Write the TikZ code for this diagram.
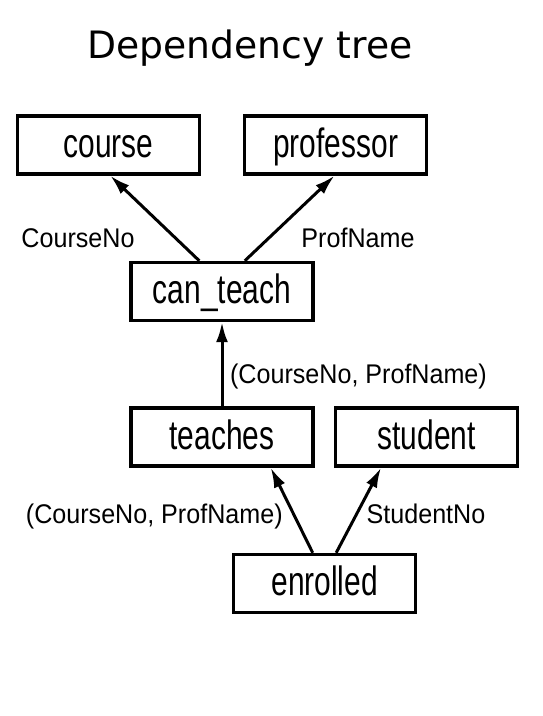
\documentclass[tikz,border=0pt]{standalone}
\usepackage{fontspec}
\setmainfont{Liberation Sans}
\newfontfamily\boxfont[FakeStretch=0.73]{Liberation Sans}
\newfontfamily\lblfont[FakeStretch=0.93]{Liberation Sans}
\newfontfamily\titlefont{DejaVu Sans}
\usetikzlibrary{arrows.meta}
\begin{document}
\begin{tikzpicture}[x=1pt,y=-1pt,
  rel/.style={draw,line width=3.4pt,inner sep=0pt,minimum width=182pt,minimum height=58pt,
    text height=30pt,text depth=6pt,font=\boxfont\fontsize{41}{41}\selectfont},
  lbl/.style={anchor=base,inner sep=0pt,font=\lblfont\fontsize{27}{27}\selectfont},
  dep/.style={line width=3pt,-{Latex[length=20pt,width=12pt]}}]
\useasboundingbox (0,0) rectangle (542,716);
\node[anchor=base,inner sep=0pt,font=\titlefont\fontsize{37.7}{37.7}\selectfont] (title) at (250,58) {Dependency tree};
\node[rel] (course) at (108.5,145) {course};
\node[rel] (prof) at (335.7,145) {professor};
\node[rel] (can) at (222,291.5) {can\_teach};
\node[rel] (teaches) at (222,437) {teaches};
\node[rel] (student) at (426.7,437) {student};
\node[rel] (enrolled) at (324.7,583.5) {enrolled};
\draw[dep] ([xshift=-22.7pt]can.north) -- ([xshift=1.8pt]course.south);
\draw[dep] ([xshift=22.8pt]can.north) -- ([xshift=-1.2pt]prof.south);
\draw[dep] (teaches.north) -- (can.south);
\draw[dep] ([xshift=-12pt]enrolled.north) -- ([xshift=48.7pt]teaches.south);
\draw[dep] ([xshift=11.5pt]enrolled.north) -- ([xshift=-45.7pt]student.south);
\node[lbl] (l1) at (78,247) {CourseNo};
\node[lbl] (l2) at (358,247) {ProfName};
\node[lbl] (l3) at (358.5,383) {(CourseNo, ProfName)};
\node[lbl] (l4) at (154.3,523) {(CourseNo, ProfName)};
\node[lbl] (l5) at (426,523) {StudentNo};
\end{tikzpicture}
\end{document}
